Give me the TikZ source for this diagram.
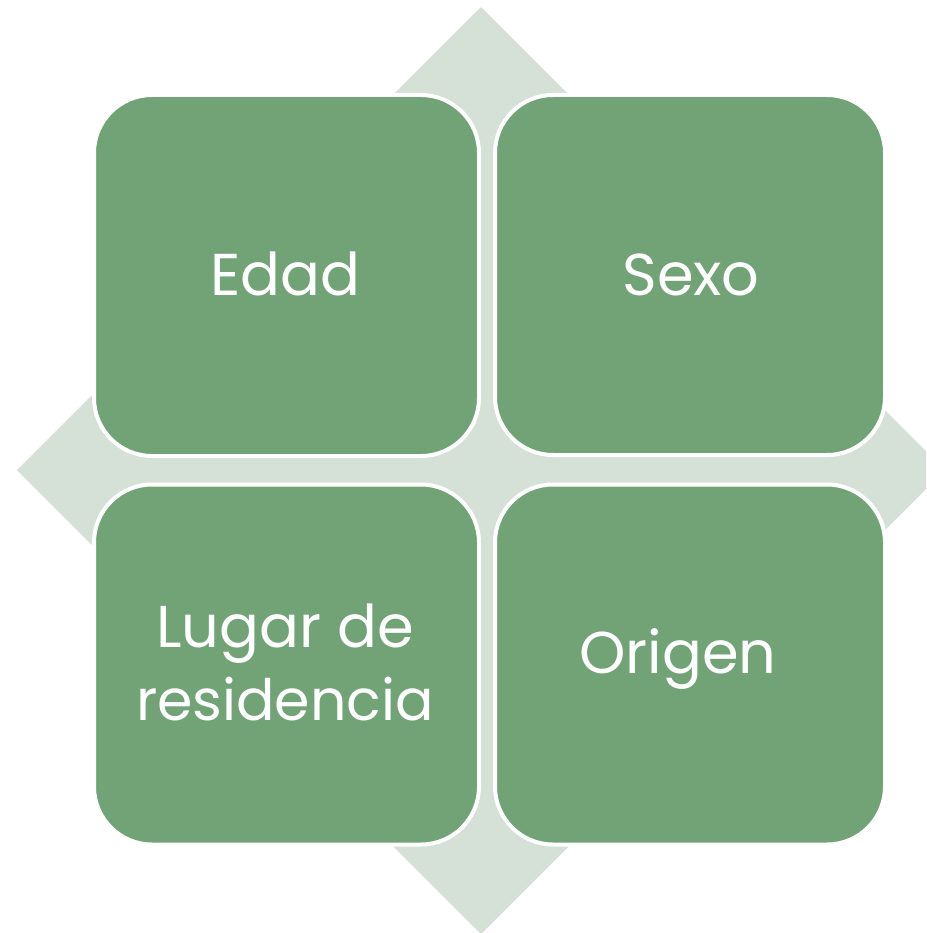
\documentclass[tikz,border=0pt]{standalone}
\usepackage{fontspec}
\setmainfont{Poppins}
\definecolor{boxgreen}{HTML}{71A377}
\definecolor{diamgrey}{HTML}{D5E1D7}
\tikzset{
  cell/.style={rectangle, rounded corners=58pt, fill=boxgreen, draw=white, line width=4pt, inner sep=0pt},
  celltext/.style={text=white, font=\fontsize{59}{73}\selectfont, inner sep=0pt, anchor=base, align=center}
}
\begin{document}
\begin{tikzpicture}[x=1pt,y=-1pt]
\useasboundingbox (0,0) rectangle (926,933);
\clip (0,0) rectangle (926,933);
\fill[diamgrey] (481,7) -- (945,470) -- (481,934) -- (17,470) -- cycle;
\node[cell, minimum width=385pt, minimum height=361pt] (tl) at (286.5,275.5) {};
\node[cell, minimum width=390pt, minimum height=360pt] (tr) at (690,275) {};
\node[cell, minimum width=385pt, minimum height=360pt] (bl) at (286.5,664.5) {};
\node[cell, minimum width=390pt, minimum height=360pt] (br) at (690,664.5) {};
\node[celltext] (tEdad) at (285,295) {Edad};
\node[celltext] (tSexo) at (691,295) {Sexo};
\node[celltext] (tOrigen) at (678,673) {Origen};
\node[celltext] (tLugar1) at (285,647) {Lugar de};
\node[celltext, font=\fontsize{57}{73}\selectfont] (tLugar2) at (285,720) {residencia};
\end{tikzpicture}
\end{document}
